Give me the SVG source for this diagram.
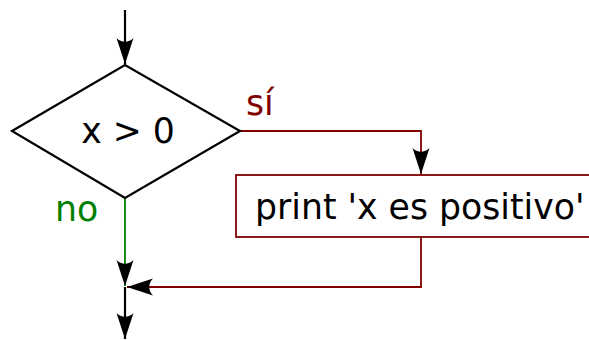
<svg xmlns="http://www.w3.org/2000/svg" width="589" height="340" viewBox="0 0 589 340">
<style>
text{font-family:"DejaVu Sans","Liberation Sans",sans-serif;font-size:34.7px}
.blk{stroke:#000;stroke-width:2.2;fill:none}
.red{stroke:#800000;stroke-width:1.8;fill:none}
.grn{stroke:#008000;stroke-width:1.8;fill:none}
</style>
<defs>
<marker id="ah" viewBox="-28 -10 30 20" markerWidth="30" markerHeight="20" refX="0" refY="0" orient="auto" markerUnits="userSpaceOnUse">
<path d="M0,0 L-26,-8.5 C-21,-3.5 -21,3.5 -26,8.5 Z" fill="#000"/>
</marker>
</defs>
<rect width="589" height="340" fill="#fff"/>
<g id="connectors">
<path class="blk" d="M125,10 V64" marker-end="url(#ah)"/>
<path class="red" d="M240,131 H421 V174" marker-end="url(#ah)"/>
<path class="grn" d="M125,198 V286" marker-end="url(#ah)"/>
<path class="red" d="M421,237 V287 H127" marker-end="url(#ah)"/>
<path class="blk" d="M125,287 V339" marker-end="url(#ah)"/>
</g>
<g id="decision">
<polygon class="blk" points="12,131 125,65 240,131 125,198"/>
<text x="128" y="143" text-anchor="middle">x &gt; 0</text>
</g>
<g id="print">
<rect class="red" x="236" y="175" width="380" height="62"/>
<text x="255" y="219">print 'x es positivo'</text>
</g>
<g id="labels">
<text x="246" y="115" fill="#800000">sí</text>
<text x="55" y="221" fill="#008000">no</text>
</g>
</svg>
